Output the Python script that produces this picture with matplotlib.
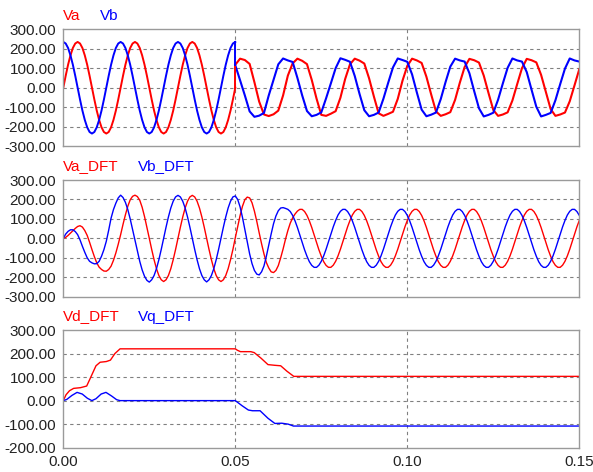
import matplotlib
matplotlib.use("Agg")
import matplotlib.pyplot as plt
import matplotlib.transforms as mtransforms
import numpy as np

plt.rcParams["font.family"] = ["Liberation Sans", "DejaVu Sans"]

# sample times (60 Hz), step change at 0.05 s
time_pre = np.linspace(0.0, 0.05, 73)      # 24 samples per cycle
time_post = np.linspace(0.05, 0.15, 73)    # 12 samples per cycle
time_dft = np.linspace(0.0, 0.15, 217)     # 24 samples per cycle

# --- panel 1: measured voltages
va_pre = [0, 61, 118, 166, 204, 227, 235, 227, 204, 166, 118, 61,
          0, -61, -118, -166, -204, -228, -236, -228, -204, -166, -118, -61,
          0, 61, 118, 166, 204, 227, 235, 227, 204, 166, 118, 61,
          0, -61, -118, -166, -204, -228, -236, -228, -204, -166, -118, -61,
          0, 61, 118, 166, 204, 227, 235, 227, 204, 166, 118, 61,
          0, -61, -118, -166, -204, -228, -236, -228, -204, -166, -118, -61,
          0]
vb_pre = [235, 227, 204, 166, 118, 61, 0, -61, -118, -166, -204, -228,
          -236, -228, -204, -166, -118, -61, 0, 61, 118, 166, 204, 227,
          235, 227, 204, 166, 118, 61, 0, -61, -118, -166, -204, -228,
          -236, -228, -204, -166, -118, -61, 0, 61, 118, 166, 204, 227,
          235, 227, 204, 166, 118, 61, 0, -61, -118, -166, -204, -228,
          -236, -228, -204, -166, -118, -61, 0, 61, 118, 166, 204, 227,
          235]
va_post = [118, 149, 142, 122, 28, -72, -138, -146, -137, -118, -40, 62,
           125, 149, 138, 121, 40, -56, -140, -145, -134, -121, -52, 45,
           120, 149, 139, 124, 48, -45, -132, -145, -135, -124, -58, 36,
           112, 149, 140, 127, 56, -35, -122, -145, -137, -126, -63, 26,
           106, 148, 141, 129, 62, -28, -115, -145, -138, -127, -66, 18,
           100, 148, 141, 130, 66, -22, -110, -145, -138, -128, -70, 12,
           95]
vb_post = [115, 38, -40, -122, -150, -144, -130, -40, 40, 120, 150, 140,
           132, 50, -40, -120, -147, -140, -127, -55, 22, 100, 151, 143,
           133, 60, -32, -116, -147, -140, -128, -57, 25, 104, 150, 142,
           133, 68, -25, -113, -147, -139, -128, -59, 28, 108, 149, 140,
           134, 74, -18, -106, -148, -140, -129, -62, 22, 102, 150, 140,
           134, 80, -10, -98, -148, -140, -130, -65, 18, 98, 150, 140,
           134]

# --- panel 2: DFT reconstructed voltages
va_dft = [0, 5, 15, 27, 39, 51, 61, 65, 58, 40, 15, -20,
          -58, -94, -126, -148, -160, -168, -169, -160, -143, -113, -75, -30,
          19, 72, 121, 165, 198, 216, 222, 215, 196, 160, 112, 57,
          0, -57, -110, -156, -191, -213, -222, -213, -191, -156, -110, -57,
          0, 57, 110, 156, 191, 213, 221, 213, 191, 156, 110, 57,
          0, -57, -110, -156, -191, -213, -222, -213, -191, -156, -110, -57,
          3, 60, 117, 165, 199, 212, 208, 183, 140, 87, 28, -28,
          -80, -124, -152, -172, -176, -165, -140, -100, -55, -5, 40, 78,
          105, 125, 140, 149, 149, 138, 118, 90, 56, 18, -21, -59,
          -92, -120, -139, -149, -149, -138, -118, -90, -56, -18, 21, 59,
          92, 120, 139, 149, 149, 138, 118, 90, 56, 18, -21, -59,
          -92, -120, -139, -149, -149, -138, -118, -90, -56, -18, 21, 59,
          92, 120, 139, 149, 149, 138, 118, 90, 56, 18, -21, -59,
          -92, -120, -139, -149, -149, -138, -118, -90, -56, -18, 21, 59,
          92, 120, 139, 149, 149, 138, 118, 90, 56, 18, -21, -59,
          -92, -120, -139, -149, -149, -138, -118, -90, -56, -18, 21, 59,
          92, 120, 139, 149, 149, 138, 118, 90, 56, 18, -21, -59,
          -92, -120, -139, -149, -149, -138, -118, -90, -56, -18, 21, 59,
          92]
vb_dft = [0, 22, 36, 44, 44, 35, 19, -8, -41, -72, -100, -118,
          -126, -131, -130, -118, -92, -58, -15, 42, 104, 148, 181, 208,
          222, 210, 185, 148, 100, 45, -10, -65, -118, -162, -195, -216,
          -225, -213, -191, -156, -110, -57, 0, 57, 110, 156, 191, 213,
          221, 213, 191, 156, 110, 57, 0, -57, -110, -156, -191, -213,
          -224, -213, -191, -156, -110, -57, 0, 57, 110, 156, 191, 213,
          218, 200, 162, 108, 45, -20, -80, -130, -165, -184, -188, -172,
          -142, -92, -35, 22, 75, 115, 142, 156, 158, 154, 149, 138,
          118, 90, 56, 18, -21, -59, -92, -120, -139, -149, -149, -138,
          -118, -90, -56, -18, 21, 59, 92, 120, 139, 149, 149, 138,
          118, 90, 56, 18, -21, -59, -92, -120, -139, -149, -149, -138,
          -118, -90, -56, -18, 21, 59, 92, 120, 139, 149, 149, 138,
          118, 90, 56, 18, -21, -59, -92, -120, -139, -149, -149, -138,
          -118, -90, -56, -18, 21, 59, 92, 120, 139, 149, 149, 138,
          118, 90, 56, 18, -21, -59, -92, -120, -139, -149, -149, -138,
          -118, -90, -56, -18, 21, 59, 92, 120, 139, 149, 149, 138,
          118, 90, 56, 18, -21, -59, -92, -120, -139, -149, -149, -138,
          -118, -90, -56, -18, 21, 59, 92, 120, 139, 149, 149, 138,
          118]

# --- panel 3: d/q components
time_vd = [0, 0.0008, 0.0018, 0.0030, 0.0050, 0.0068, 0.0080, 0.0095, 0.0107,
           0.0125, 0.0137, 0.0150, 0.0165, 0.0500, 0.0506, 0.0515, 0.0545,
           0.0555, 0.0575, 0.0595, 0.0615, 0.0632, 0.0650, 0.0670, 0.1500]
vd_dft = [0, 25, 42, 52, 55, 62, 100, 148, 163, 166, 172, 200, 220, 220,
          214, 208, 208, 204, 180, 153, 150, 148, 125, 103, 103]
time_vq = [0, 0.0010, 0.0025, 0.0040, 0.0055, 0.0070, 0.0083, 0.0095, 0.0110,
           0.0124, 0.0140, 0.0155, 0.0165, 0.0500, 0.0520, 0.0538, 0.0550,
           0.0572, 0.0595, 0.0615, 0.0635, 0.0654, 0.0669, 0.1500]
vq_dft = [0, 5, 22, 35, 28, 10, 0, 8, 28, 35, 20, 4, 0, 0, -22, -40, -43,
          -43, -75, -97, -96, -100, -108, -108]

x_ticks = [0.0, 0.05, 0.10, 0.15]
y_ticks_v = [-300, -200, -100, 0, 100, 200, 300]
y_ticks_dq = [-200, -100, 0, 100, 200, 300]

RED = "#ff0000"
BLUE = "#0000ff"
GRID = "#808080"
FRAME = "#9a9a9a"

fig = plt.figure(figsize=(5.93, 4.72), dpi=100)
W, H = 593, 472
left, right = 63.3, 579.3
panels = [(29.3, 146.0), (180.0, 296.7), (330.0, 447.7)]
axes = []
for top, bot in panels:
    ax = fig.add_axes([left / W, 1 - bot / H, (right - left) / W, (bot - top) / H])
    axes.append(ax)


def style(ax, yticks, labels, show_x):
    ax.set_xlim(0, 0.15)
    ax.set_ylim(yticks[0], yticks[-1])
    ax.set_yticks(yticks)
    ax.set_yticklabels([f"{v:.2f}" for v in yticks])
    ax.set_xticks(x_ticks)
    if show_x:
        ax.set_xticklabels([f"{v:.2f}" for v in x_ticks])
    else:
        ax.set_xticklabels([])
    ax.tick_params(length=0, labelsize=11, colors="#222222", pad=5)
    for s in ax.spines.values():
        s.set_color(FRAME)
        s.set_linewidth(1.0)
    for y in yticks[1:-1]:
        ax.axhline(y, color=GRID, lw=0.8, ls=(0, (3, 3)), zorder=0)
    for x in x_ticks[1:-1]:
        ax.axvline(x, color=GRID, lw=0.8, ls=(0, (3, 3)), zorder=0)
    trans = mtransforms.offset_copy(ax.transAxes, fig=fig, x=0, y=9.5, units="dots")
    ax.text(0, 1, labels[0], color=RED, fontsize=11, transform=trans,
            va="baseline", ha="left")
    trans2 = mtransforms.offset_copy(ax.transAxes, fig=fig, x=labels[2], y=9.5, units="dots")
    ax.text(0, 1, labels[1], color=BLUE, fontsize=11, transform=trans2,
            va="baseline", ha="left")


ax1, ax2, ax3 = axes
ax1.plot(time_pre, va_pre, color=RED, lw=1.4)
ax1.plot(time_post, va_post, color=RED, lw=1.5)
ax1.plot(time_pre, vb_pre, color=BLUE, lw=1.4)
ax1.plot(time_post, vb_post, color=BLUE, lw=1.5)
ax1.plot([0.05, 0.05], [va_pre[-1], va_post[0]], color=RED, lw=1.4)
ax1.plot([0.05, 0.05], [vb_pre[-1], vb_post[0]], color=BLUE, lw=1.4)
style(ax1, y_ticks_v, ("Va", "Vb", 36.7), False)

ax2.plot(time_dft, va_dft, color=RED, lw=1.0)
ax2.plot(time_dft, vb_dft, color=BLUE, lw=1.0)
style(ax2, y_ticks_v, ("Va_DFT", "Vb_DFT", 74.7), False)

ax3.plot(time_vd, vd_dft, color=RED, lw=1.0)
ax3.plot(time_vq, vq_dft, color=BLUE, lw=1.0)
style(ax3, y_ticks_dq, ("Vd_DFT", "Vq_DFT", 74.7), True)

fig.savefig("out.png", dpi=100, facecolor="white")
